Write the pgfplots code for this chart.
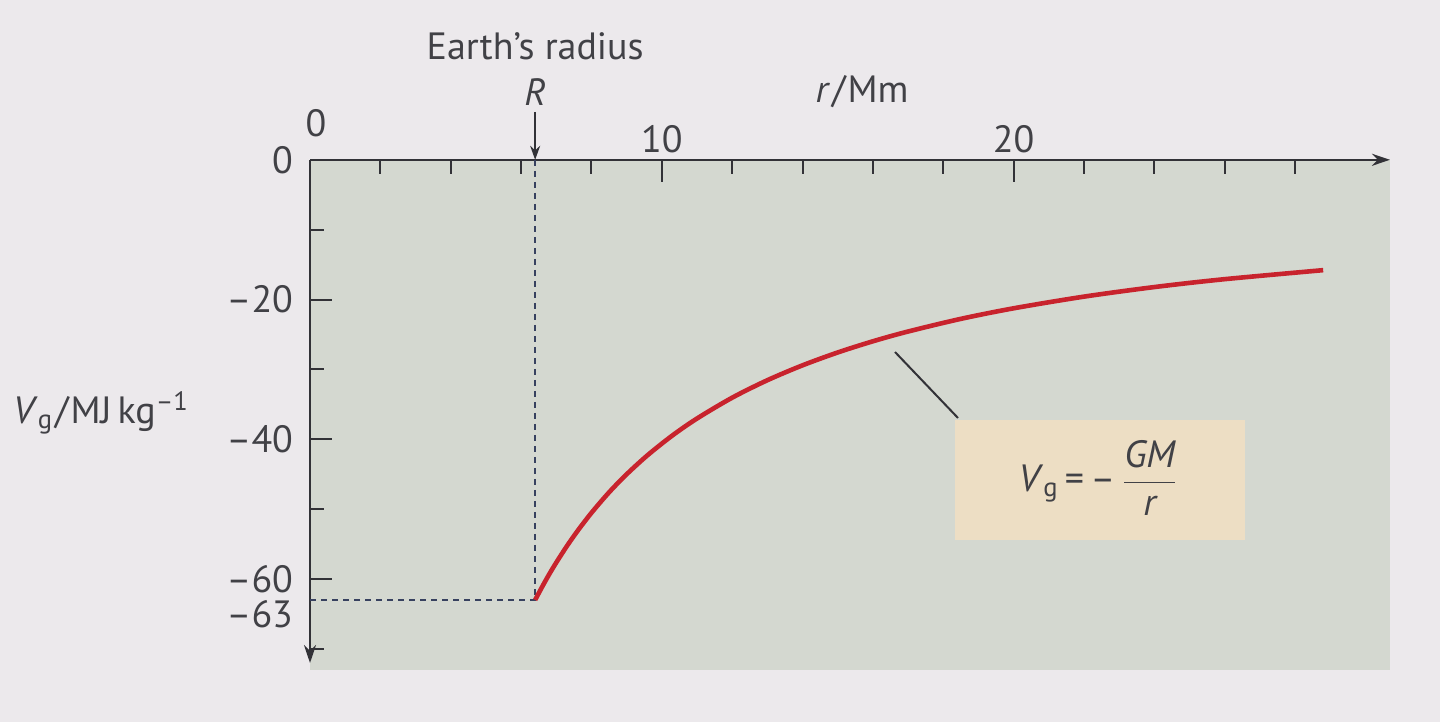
\documentclass[border=0pt]{standalone}
\usepackage{fontspec}
\setmainfont{PT Sans}
\usepackage{pgfplots}
\pgfplotsset{compat=1.18}
\usetikzlibrary{arrows.meta}
\definecolor{pagebg}{RGB}{236,233,236}
\definecolor{plotbg}{RGB}{212,216,208}
\definecolor{boxbg}{RGB}{237,222,196}
\definecolor{curvecol}{RGB}{200,35,45}
\definecolor{axiscol}{RGB}{50,50,55}
\definecolor{textc}{RGB}{65,65,70}
\definecolor{dashcol}{RGB}{55,65,95}
\begin{document}
\begin{tikzpicture}[font=\fontsize{19}{22}\selectfont]
\useasboundingbox (0,0) rectangle (720pt,361pt);
\fill[pagebg] (0,0) rectangle (720pt,361pt);
\fill[plotbg] (155pt,26pt) rectangle (695pt,281pt);
\begin{axis}[
  at={(155pt,29.5pt)}, anchor=south west,
  scale only axis, width=540pt, height=251.6pt,
  xmin=0, xmax=30.7, ymin=-72, ymax=0,
  axis x line=top, axis y line=left,
  clip=false,
  axis line style={draw=axiscol, line width=1.2pt},
  x axis line style={-{Stealth[length=9pt,width=6pt]}},
  y axis line style={{Stealth[length=9pt,width=6pt]}-},
  tick align=inside,
  major tick length=11pt, minor tick length=7pt,
  every tick/.style={draw=axiscol, line width=1pt},
  tick label style={font=\fontsize{19}{22}\selectfont, text=textc},
  yticklabel style={xshift=-5pt},
  xtick={10,20}, xticklabels={10,20},
  minor xtick={2,4,6,8,12,14,16,18,22,24,26,28},
  ytick={-60,-40,-20,0}, yticklabels={--60,--40,--20,0},
  minor ytick={-70,-50,-30,-10},
  extra x ticks={0}, extra x tick labels={0},
  extra x tick style={major tick length=0pt, tick label style={xshift=3pt, yshift=8pt}},
  extra y ticks={-63}, extra y tick labels={--63},
  extra y tick style={major tick length=0pt, tick label style={yshift=-7pt}},
]
\addplot[dashcol, line width=1pt, dash pattern=on 3pt off 2.5pt] coordinates {(6.4,0) (6.4,-63)};
\addplot[dashcol, line width=1pt, dash pattern=on 3pt off 2.5pt] coordinates {(0,-63) (6.4,-63)};
\addplot[curvecol, line width=2.3pt, smooth] coordinates {
(6.4,-62.98) (6.6,-61.09) (6.8,-59.30) (7.0,-57.63) (7.3,-55.29) (7.6,-53.14)
(8.0,-50.52) (8.5,-47.59) (9.0,-45.00) (9.6,-42.25) (10.3,-39.45) (11.0,-37.02)
(12.0,-34.04) (13.0,-31.54) (14.0,-29.41) (15.0,-27.57) (16.0,-25.97) (17.0,-24.57)
(18.5,-22.76) (20.0,-21.25) (22.0,-19.58) (24.0,-18.21) (26.0,-17.08) (28.8,-15.79)};
\draw[axiscol, line width=1pt, -{Stealth[length=7pt,width=5pt]}] ([yshift=24pt]axis cs:6.4,0) -- (axis cs:6.4,0);
\node[text=textc] at ([yshift=34pt]axis cs:6.4,0) {\textit{R}};
\node[text=textc] at ([yshift=57pt]axis cs:6.4,0) {Earth’s radius};
\end{axis}
\node[text=textc] at (431pt,315pt) {\textit{r}\kern1pt/\kern1ptMm};
\node[text=textc, anchor=west] at (3pt,154.5pt) {\textit{V}\textsubscript{g}\kern1pt/\kern1ptMJ\kern3pt kg\textsuperscript{–1}};
\fill[boxbg] (477.5pt,91pt) rectangle (622.5pt,151pt);
\draw[axiscol, line width=1pt] (447.5pt,185pt) -- (479pt,152pt);
\node[text=textc] at (549pt,122pt) {\textit{V}\textsubscript{g}\,=\,–\,$\displaystyle\frac{\mbox{\itshape GM}}{\mbox{\itshape r}}$};
\end{tikzpicture}
\end{document}
